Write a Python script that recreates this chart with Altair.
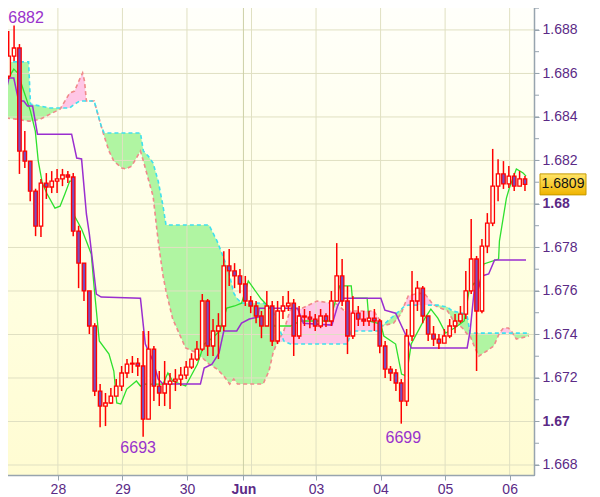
import altair as alt
import pandas as pd

W, H = 533, 474
FONT = "Liberation Sans"

# ---------------- data ----------------
price_domain = [1.66754, 1.68933]
hour_domain = [0.0, 194.5]

first_open = 1.68588
closes = [1.68680, 1.68717, 1.68243, 1.68197, 1.68059, 1.67898, 1.68096, 1.68078, 1.68105, 1.68115,
          1.68133, 1.68124, 1.67875, 1.67728, 1.67600, 1.67439, 1.67140, 1.67071, 1.67085, 1.67117,
          1.67163, 1.67223, 1.67264, 1.67268, 1.67255, 1.67011, 1.67333, 1.67163, 1.67131, 1.67172,
          1.67186, 1.67195, 1.67213, 1.67250, 1.67287, 1.67333, 1.67554, 1.67347, 1.67416, 1.67439,
          1.67715, 1.67692, 1.67669, 1.67632, 1.67554, 1.67531, 1.67485, 1.67439, 1.67531, 1.67370,
          1.67508, 1.67531, 1.67544, 1.67393, 1.67485, 1.67480, 1.67471, 1.67439, 1.67485, 1.67462,
          1.67554, 1.67669, 1.67554, 1.67393, 1.67498, 1.67471, 1.67462, 1.67475, 1.67462, 1.67347,
          1.67241, 1.67223, 1.67177, 1.67094, 1.67393, 1.67554, 1.67613, 1.67485, 1.67402, 1.67379,
          1.67360, 1.67393, 1.67439, 1.67462, 1.67494, 1.67600, 1.67747, 1.67508, 1.67806, 1.67912,
          1.68082, 1.68138, 1.68092, 1.68128, 1.68082, 1.68115, 1.68090]
highs = [1.68795, 1.68820, 1.68735, 1.68335, 1.68197, 1.68070, 1.68115, 1.68142, 1.68151, 1.68161,
         1.68161, 1.68151, 1.68142, 1.67900, 1.67728, 1.67600, 1.67452, 1.67172, 1.67131, 1.67154,
         1.67195, 1.67255, 1.67287, 1.67301, 1.67292, 1.67416, 1.67416, 1.67347, 1.67232, 1.67278,
         1.67223, 1.67241, 1.67250, 1.67278, 1.67314, 1.67370, 1.67586, 1.67563, 1.67471, 1.67498,
         1.67783, 1.67793, 1.67728, 1.67701, 1.67669, 1.67577, 1.67554, 1.67508, 1.67600, 1.67554,
         1.67554, 1.67577, 1.67600, 1.67563, 1.67531, 1.67517, 1.67508, 1.67494, 1.67517, 1.67498,
         1.67600, 1.67820, 1.67747, 1.67623, 1.67577, 1.67531, 1.67508, 1.67508, 1.67517, 1.67471,
         1.67370, 1.67255, 1.67241, 1.67195, 1.67425, 1.67692, 1.67646, 1.67623, 1.67485, 1.67439,
         1.67402, 1.67425, 1.67471, 1.67494, 1.67531, 1.67692, 1.67931, 1.67761, 1.67839, 1.67958,
         1.68253, 1.68206, 1.68197, 1.68174, 1.68142, 1.68151, 1.68128]
lows = [1.68574, 1.68657, 1.68138, 1.68165, 1.68013, 1.67852, 1.67848, 1.68023, 1.68050, 1.68050,
        1.68082, 1.68096, 1.67852, 1.67613, 1.67554, 1.67402, 1.67117, 1.66974, 1.66979, 1.67080,
        1.67117, 1.67140, 1.67200, 1.67223, 1.67209, 1.66930, 1.67011, 1.67094, 1.67071, 1.67071,
        1.67057, 1.67140, 1.67163, 1.67195, 1.67241, 1.67278, 1.67324, 1.67301, 1.67301, 1.67287,
        1.67416, 1.67623, 1.67613, 1.67590, 1.67531, 1.67498, 1.67452, 1.67383, 1.67439, 1.67347,
        1.67356, 1.67471, 1.67508, 1.67301, 1.67379, 1.67439, 1.67429, 1.67416, 1.67429, 1.67434,
        1.67439, 1.67554, 1.67531, 1.67310, 1.67379, 1.67439, 1.67439, 1.67439, 1.67416, 1.67314,
        1.67200, 1.67186, 1.67140, 1.66990, 1.67071, 1.67370, 1.67508, 1.67452, 1.67370, 1.67347,
        1.67333, 1.67360, 1.67383, 1.67406, 1.67452, 1.67471, 1.67586, 1.67232, 1.67498, 1.67774,
        1.67898, 1.68013, 1.68069, 1.68073, 1.68059, 1.68082, 1.68059]
# one candle every 2 hours, centred on odd hours
candle_hours = list(range(1, 2 * len(closes), 2))

# Ichimoku cloud (Senkou span A / span B)
cloud_hours = [0.0, 3.6, 8.4, 9.1, 12.8, 16.4, 20.1, 21.9, 23.7, 25.5, 27.4, 28.5, 29.2, 29.9, 32.8,
               35.4, 36.5, 38.3, 40.1, 43.1, 44.5, 46.7, 48.5, 50.0, 51.1, 52.9, 54.7, 56.6, 58.4,
               59.5, 62.0, 66.8, 71.2, 75.5, 78.5, 81.0, 83.2, 84.7, 86.1, 87.6, 95.6, 97.8, 99.3,
               100.7, 103.3, 105.8, 109.5, 115.7, 123.0, 125.9, 127.0, 128.4, 136.8, 138.7, 139.8,
               144.1, 147.1, 147.8, 149.6, 153.3, 155.8, 158.7, 160.6, 164.2, 166.0, 169.7, 171.5,
               172.6, 174.4, 175.9, 178.8, 181.4, 183.5, 185.0, 186.8, 187.9, 189.8, 194.5]
span_a = [1.68653, 1.68653, 1.68653, 1.68459, 1.68450, 1.68441, 1.68441, 1.68441, 1.68441, 1.68459,
          1.68473, 1.68473, 1.68473, 1.68473, 1.68473, 1.68358, 1.68326, 1.68326, 1.68326, 1.68326,
          1.68326, 1.68326, 1.68326, 1.68326, 1.68243, 1.68220, 1.68188, 1.68105, 1.67990, 1.67903,
          1.67903, 1.67903, 1.67903, 1.67903, 1.67829, 1.67751, 1.67669, 1.67590, 1.67563, 1.67544,
          1.67544, 1.67531, 1.67508, 1.67462, 1.67370, 1.67356, 1.67356, 1.67356, 1.67356, 1.67356,
          1.67356, 1.67416, 1.67416, 1.67416, 1.67439, 1.67485, 1.67517, 1.67526, 1.67535, 1.67535,
          1.67535, 1.67535, 1.67535, 1.67526, 1.67508, 1.67498, 1.67485, 1.67406, 1.67406, 1.67406,
          1.67406, 1.67406, 1.67406, 1.67406, 1.67406, 1.67406, 1.67406, 1.67406]
span_b = [1.68395, 1.68390, 1.68381, 1.68381, 1.68390, 1.68413, 1.68436, 1.68473, 1.68510, 1.68519,
          1.68574, 1.68602, 1.68565, 1.68473, 1.68473, 1.68358, 1.68312, 1.68243, 1.68197, 1.68165,
          1.68161, 1.68174, 1.68211, 1.68243, 1.68197, 1.68115, 1.68036, 1.67829, 1.67669, 1.67600,
          1.67471, 1.67338, 1.67314, 1.67264, 1.67241, 1.67209, 1.67172, 1.67195, 1.67172, 1.67172,
          1.67172, 1.67232, 1.67314, 1.67360, 1.67416, 1.67517, 1.67517, 1.67554, 1.67540, 1.67508,
          1.67508, 1.67508, 1.67508, 1.67471, 1.67439, 1.67452, 1.67498, 1.67526, 1.67577, 1.67590,
          1.67586, 1.67540, 1.67526, 1.67508, 1.67471, 1.67430, 1.67402, 1.67393, 1.67338, 1.67301,
          1.67324, 1.67347, 1.67406, 1.67430, 1.67430, 1.67416, 1.67379, 1.67393]

# Tenkan-sen (green) and Kijun-sen (purple)
tenkan_hours = [0.7, 2.9, 4.4, 6.6, 9.1, 10.9, 12.0, 13.5, 15.3, 18.2, 20.1, 21.9, 23.7, 24.8, 25.5,
                28.1, 29.9, 31.7, 32.8, 34.7, 38.3, 40.1, 41.2, 42.7, 44.9, 48.5, 50.0, 51.1, 58.4,
                60.2, 62.0, 66.8, 71.2, 73.7, 76.6, 79.6, 82.1, 85.0, 87.6, 90.1, 92.0, 94.9, 98.5,
                99.6, 105.8, 109.5, 120.4, 122.2, 124.1, 128.4, 128.8, 134.3, 135.0, 139.4, 140.5,
                144.9, 147.1, 148.9, 150.7, 155.8, 158.0, 160.6, 163.5, 166.8, 170.4, 172.2, 174.1,
                175.9, 177.7, 183.2, 183.5, 186.1, 187.2, 189.8, 192.3, 193.4]
tenkan = [1.68574, 1.68620, 1.68602, 1.68519, 1.68427, 1.68335, 1.68197, 1.68096, 1.68046, 1.67981,
          1.67990, 1.68046, 1.68105, 1.68105, 1.67944, 1.67885, 1.67829, 1.67770, 1.67613, 1.67370,
          1.67310, 1.67232, 1.67085, 1.67080, 1.67149, 1.67186, 1.67163, 1.67172, 1.67172, 1.67223,
          1.67186, 1.67163, 1.67264, 1.67356, 1.67383, 1.67416, 1.67521, 1.67531, 1.67544, 1.67646,
          1.67613, 1.67563, 1.67517, 1.67439, 1.67439, 1.67462, 1.67462, 1.67540, 1.67623, 1.67623,
          1.67567, 1.67567, 1.67462, 1.67448, 1.67393, 1.67356, 1.67218, 1.67209, 1.67356, 1.67475,
          1.67517, 1.67475, 1.67406, 1.67430, 1.67462, 1.67600, 1.67636, 1.67623, 1.67724, 1.67747,
          1.67829, 1.68027, 1.68073, 1.68161, 1.68142, 1.68128]
kijun_hours = [0.0, 1.1, 2.9, 4.7, 6.6, 8.0, 9.9, 11.7, 24.4, 26.3, 28.1, 29.9, 31.0, 33.6, 35.4,
               50.0, 51.8, 54.7, 56.6, 58.4, 72.3, 73.7, 76.6, 79.2, 81.0, 85.8, 87.6, 90.5, 93.8,
               94.1, 108.4, 110.6, 121.2, 123.3, 124.8, 139.4, 140.9, 144.9, 148.5, 150.7, 171.5,
               172.6, 174.1, 175.2, 177.0, 179.5, 181.7, 193.4]
kijun = [1.68519, 1.68579, 1.68579, 1.68473, 1.68473, 1.68450, 1.68450, 1.68321, 1.68321, 1.68211,
         1.68207, 1.67954, 1.67862, 1.67586, 1.67572, 1.67567, 1.67356, 1.67278, 1.67195, 1.67172,
         1.67172, 1.67246, 1.67264, 1.67314, 1.67416, 1.67416, 1.67452, 1.67471, 1.67480, 1.67521,
         1.67521, 1.67452, 1.67443, 1.67531, 1.67567, 1.67567, 1.67512, 1.67498, 1.67402, 1.67338,
         1.67338, 1.67416, 1.67600, 1.67590, 1.67669, 1.67678, 1.67742, 1.67742]

# axis ticks
day_hours = [19.3, 43.3, 67.3, 88.3, 115.3, 139.3, 163.3, 187.3]
day_labels = ["28", "29", "30", "Jun", "03", "04", "05", "06"]
month_labels = ["Jun"]
session_hours = [91.3]          # extra vertical grid line (Monday session start)
price_major = [1.668, 1.670, 1.672, 1.674, 1.676, 1.678, 1.680, 1.682, 1.684, 1.686, 1.688]
price_minor = [1.669, 1.671, 1.673, 1.675, 1.677, 1.679, 1.681, 1.683, 1.685, 1.687, 1.689]
bold_prices = [1.670, 1.680]

# extreme-price annotations (anchored on the candle that made them)
ann_labels = ["6882", "6693", "6699"]
ann_candle = [1, 25, 73]
ann_price = [1.6882, 1.6693, 1.6699]

# ---------------- tables ----------------
opens = [first_open] + closes[:-1]
candles = pd.DataFrame({"t": candle_hours, "open": opens, "close": closes,
                        "high": highs, "low": lows})
cloud = pd.DataFrame({"h": cloud_hours, "a": span_a, "b": span_b})
cloud["lo"] = cloud[["a", "b"]].min(axis=1)
tk = pd.DataFrame({"h": tenkan_hours, "p": tenkan})
kj = pd.DataFrame({"h": kijun_hours, "p": kijun})
hgrid = pd.DataFrame({"p": price_major})
vgrid = pd.DataFrame({"h": [h for h, l in zip(day_hours, day_labels) if l not in month_labels] + session_hours})
mgrid = pd.DataFrame({"h": [h for h, l in zip(day_hours, day_labels) if l in month_labels]})
minor = pd.DataFrame({"p": price_minor + price_major})
ann = pd.DataFrame({"t": [candle_hours[i] for i in ann_candle], "p": ann_price, "label": ann_labels})
last = pd.DataFrame({"p": [closes[-1]], "label": [f"{closes[-1]:.4f}"]})
one = pd.DataFrame({"k": [0]})

# ---------------- scales / axes ----------------
xs = alt.Scale(domain=hour_domain, nice=False, zero=False)
ys = alt.Scale(domain=price_domain, nice=False, zero=False)

lab_color = "#5b2a86"
axis_gray = "#97a4ae"

x_label_expr = " : ".join(f"abs(datum.value - {h}) < 0.01 ? '{l}'" for h, l in zip(day_hours, day_labels)) + " : ''"
month_h = [h for h, l in zip(day_hours, day_labels) if l in month_labels]
x_weight_expr = " || ".join(f"abs(datum.value - {h}) < 0.01" for h in month_h) + " ? 'bold' : 'normal'"
y_weight_expr = " || ".join(f"abs(datum.value - {p}) < 0.00001" for p in bold_prices) + " ? 'bold' : 'normal'"

xaxis = alt.Axis(values=day_hours, labelExpr=x_label_expr, orient="bottom", grid=False, title=None,
                 domainColor=axis_gray, domainWidth=1.5, tickColor=axis_gray, tickSize=5,
                 labelFont=FONT, labelFontSize=14, labelColor=lab_color, labelPadding=2,
                 labelFontWeight={"expr": x_weight_expr}, labelOverlap=False, labelFlush=False,
                 zindex=1)
yaxis = alt.Axis(values=price_major, format=".3~f", orient="right", grid=False, title=None,
                 domainColor=axis_gray, domainWidth=1.5, tickColor=axis_gray, tickSize=5,
                 labelFont=FONT, labelFontSize=14, labelColor=lab_color, labelPadding=3,
                 labelFontWeight={"expr": y_weight_expr}, labelOverlap=False, labelFlush=False,
                 zindex=1)


def X(f):
    return alt.X(f, type="quantitative", scale=xs, axis=xaxis)


def Y(f):
    return alt.Y(f, type="quantitative", scale=ys, axis=yaxis)


bg_grad = {"gradient": "linear", "x1": 0, "y1": 0, "x2": 0, "y2": 1,
           "stops": [{"offset": 0, "color": "#fffffb"}, {"offset": 0.5, "color": "#ffffe4"},
                     {"offset": 1, "color": "#fffcd2"}]}
box_grad = {"gradient": "linear", "x1": 0, "y1": 0, "x2": 0, "y2": 1,
            "stops": [{"offset": 0, "color": "#ffe56a"}, {"offset": 1, "color": "#f0b400"}]}

bg = alt.Chart(one).mark_rect(fill=bg_grad, strokeWidth=0).encode(
    x=alt.value(0), x2=alt.value(W), y=alt.value(0), y2=alt.value(H))

green = alt.Chart(cloud).mark_area(color="#b0f5a2", opacity=1).encode(
    x=X("h"), y=Y("a"), y2=alt.Y2("lo"))
pink = alt.Chart(cloud).mark_area(color="#ffc6e6", opacity=1).encode(
    x=X("h"), y=Y("b"), y2=alt.Y2("lo"))

hg = alt.Chart(hgrid).mark_rule(color="#e0e0c2", strokeWidth=1).encode(y=Y("p"))
vg = alt.Chart(vgrid).mark_rule(color="#e0e0c2", strokeWidth=1).encode(x=X("h"))
mg = alt.Chart(mgrid).mark_rule(color="#cdd0a6", strokeWidth=1).encode(x=X("h"))

line_b = alt.Chart(cloud).mark_line(color="#f08a8a", strokeDash=[4, 3], strokeWidth=1.6).encode(
    x=X("h"), y=Y("b"))
line_a = alt.Chart(cloud).mark_line(color="#3fe0ee", strokeDash=[4, 3], strokeWidth=1.6).encode(
    x=X("h"), y=Y("a"))

tk_line = alt.Chart(tk).mark_line(color="#2ee02e", strokeWidth=1.3).encode(x=X("h"), y=Y("p"))
kj_line = alt.Chart(kj).mark_line(color="#9a2ecf", strokeWidth=1.5).encode(x=X("h"), y=Y("p"))

wicks = alt.Chart(candles).mark_rule(color="#ff0000", strokeWidth=1.5).encode(
    x=X("t"), y=Y("low"), y2=alt.Y2("high"))
bodies = alt.Chart(candles).mark_bar(size=3.5, stroke="#ff0000", strokeWidth=1.3).encode(
    x=X("t"), y=Y("open"), y2=alt.Y2("close"),
    fill=alt.condition("datum.close < datum.open", alt.value("#7a4cbc"), alt.value("#fffff0")))

ann_style = dict(font=FONT, fontSize=16, color="#9932cc", align="center", baseline="middle")
t1 = alt.Chart(ann.iloc[[0]]).mark_text(dx=12, dy=-8, **ann_style).encode(x=X("t"), y=Y("p"), text="label")
t2 = alt.Chart(ann.iloc[[1]]).mark_text(dx=-5, dy=11, **ann_style).encode(x=X("t"), y=Y("p"), text="label")
t3 = alt.Chart(ann.iloc[[2]]).mark_text(dx=2, dy=14, **ann_style).encode(x=X("t"), y=Y("p"), text="label")

minor_ticks = alt.Chart(minor).mark_rule(color=axis_gray, strokeWidth=1).encode(
    y=Y("p"), x=alt.value(W), x2=alt.value(W + 5))

box = alt.Chart(last).mark_rect(fill=box_grad, stroke="#c69a00", strokeWidth=1,
                                yOffset=-10.5, y2Offset=10.5).encode(
    x=alt.value(W + 6), x2=alt.value(W + 52), y=Y("p"), y2=alt.Y2("p"))
box_text = alt.Chart(last).mark_text(font=FONT, fontSize=14, color="#111111",
                                     align="center", baseline="middle").encode(
    x=alt.value(W + 29), y=Y("p"), text="label")

chart = alt.layer(bg, green, pink, hg, vg, mg, line_b, line_a, tk_line, kj_line,
                  wicks, bodies, t1, t2, t3, minor_ticks, box, box_text).properties(
    width=W, height=H, background="white",
    padding={"left": -8, "top": -8, "right": 4, "bottom": 0}
).configure_view(stroke="#8f9ca8", strokeWidth=2)

chart.save("out.html", embed_options={"renderer": "svg", "actions": False})
